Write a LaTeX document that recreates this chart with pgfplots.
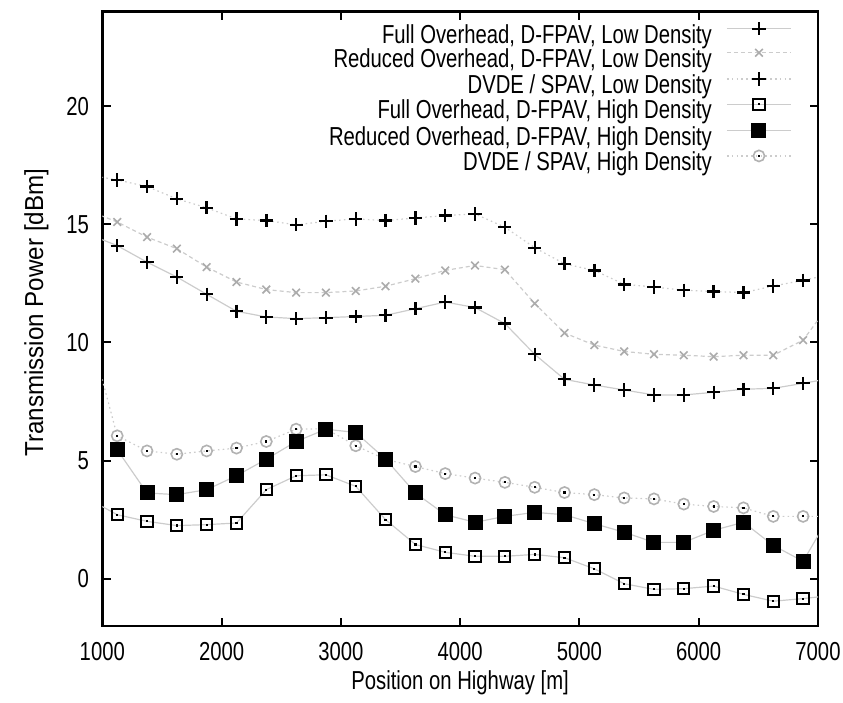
\documentclass[border=0pt]{standalone}
\usepackage{fontspec}
\setmainfont{Liberation Sans}[FakeStretch=0.78]
\newfontfamily\ylabfont{Liberation Sans}[FakeStretch=0.93]
\usepackage{pgfplots}
\pgfplotsset{compat=1.18}

\pgfdeclareplotmark{sqdot}{%
  \pgfpathrectangle{\pgfqpoint{-\pgfplotmarksize}{-\pgfplotmarksize}}{\pgfqpoint{2\pgfplotmarksize}{2\pgfplotmarksize}}%
  \pgfusepathqstroke
  \pgfpathrectangle{\pgfqpoint{-0.55pt}{-0.55pt}}{\pgfqpoint{1.1pt}{1.1pt}}%
  \pgfusepathqfill}
\pgfdeclareplotmark{circdot}{%
  \pgfpathcircle{\pgfpointorigin}{\pgfplotmarksize}%
  \pgfusepathqstroke
  \pgfpathrectangle{\pgfqpoint{-0.55pt}{-0.55pt}}{\pgfqpoint{1.1pt}{1.1pt}}%
  \pgfusepathqfill}

\pgfplotsset{
  sA/.style={gray!40, line width=0.6pt, mark=+, mark size=3.3pt, mark options={black, line width=1.1pt, solid}},
  sB/.style={gray!40, line width=0.6pt, dash pattern=on 2pt off 1.5pt, mark=x, mark size=2.7pt, mark options={gray!65, line width=0.8pt, solid}},
  sC/.style={gray!40, line width=0.6pt, dash pattern=on 0.8pt off 1.6pt, mark=+, mark size=3.3pt, mark options={black, line width=1.2pt, solid}},
  sD/.style={gray!40, line width=0.6pt, mark=sqdot, mark size=2.8pt, mark options={draw=black, fill=black, line width=1pt, solid}},
  sE/.style={gray!40, line width=0.6pt, mark=square*, mark size=3.5pt, mark options={draw=black, fill=black, line width=0.5pt, solid}},
  sF/.style={gray!40, line width=0.6pt, dash pattern=on 0.8pt off 1.6pt, mark=circdot, mark size=2.8pt, mark options={draw=gray!60, fill=black, line width=0.8pt, solid}},
}

\begin{document}
\begin{tikzpicture}
\begin{axis}[name=ax,
  scale only axis, width=357.85pt, height=307.15pt,
  xmin=1000, xmax=7000, ymin=-2, ymax=24,
  xtick={1000,2000,3000,4000,5000,6000,7000},
  ytick={0,5,10,15,20},
  font=\fontsize{13}{15}\selectfont,
  /pgf/number format/assume math mode=true,
  /pgf/number format/1000 sep={},
  tick align=inside, major tick length=4.2pt,
  every tick/.style={black, line width=1pt},
  axis line style={line width=1.3pt},
  xticklabel style={anchor=center, yshift=-13pt, inner sep=0pt},
  yticklabel style={anchor=east, xshift=-6.5pt, inner sep=0pt},
  xlabel={Position on Highway [m]},
  ylabel={Transmission Power [dBm]},
  every axis x label/.style={at={(axis description cs:0.5,-0.0928)}, anchor=center},
  every axis y label/.style={at={(axis description cs:-0.0922,0.51)}, rotate=90, anchor=center, font=\ylabfont\fontsize{13}{15}\selectfont},
  legend style={at={(axis description cs:1,1)}, anchor=north east, xshift=-13pt, yshift=-5pt,
    draw=none, fill=none, inner sep=0pt, column sep=7.25pt, row sep=0pt,
    nodes={inner sep=0pt, text height=9.5pt, text depth=2.5pt}},
  legend cell align=right, legend plot pos=right,
  legend image code/.code={\draw[mark repeat=2,mark phase=2,#1] plot coordinates {(0pt,3.8pt) (16pt,3.8pt) (32pt,3.8pt)};},
]
\addlegendimage{sA}\addlegendentry{Full Overhead, D-FPAV, Low Density}
\addlegendimage{sB}\addlegendentry{Reduced Overhead, D-FPAV, Low Density}
\addlegendimage{sC}\addlegendentry{DVDE / SPAV, Low Density}
\addlegendimage{sD}\addlegendentry{Full Overhead, D-FPAV, High Density}
\addlegendimage{sE}\addlegendentry{Reduced Overhead, D-FPAV, High Density}
\addlegendimage{sF}\addlegendentry{DVDE / SPAV, High Density}

% Full Overhead, Low Density
\addplot[sA, forget plot] coordinates {
(875,14.6) (1125,14.1) (1375,13.4) (1625,12.77) (1875,12.04) (2125,11.32) (2375,11.08) (2625,11.01) (2875,11.05) (3125,11.1) (3375,11.15) (3625,11.43) (3875,11.71) (4125,11.48) (4375,10.8) (4625,9.5) (4875,8.44) (5125,8.2) (5375,7.99) (5625,7.78) (5875,7.78) (6125,7.89) (6375,8.02) (6625,8.06) (6875,8.27) (7125,8.5)};
% Reduced Overhead, Low Density
\addplot[sB, forget plot] coordinates {
(875,15.6) (1125,15.1) (1375,14.46) (1625,13.97) (1875,13.19) (2125,12.56) (2375,12.24) (2625,12.11) (2875,12.11) (3125,12.18) (3375,12.38) (3625,12.7) (3875,13.05) (4125,13.26) (4375,13.08) (4625,11.65) (4875,10.4) (5125,9.89) (5375,9.62) (5625,9.5) (5875,9.46) (6125,9.4) (6375,9.46) (6625,9.46) (6875,10.1) (7125,11.8)};
% DVDE / SPAV, Low Density
\addplot[sC, forget plot] coordinates {
(875,17.1) (1125,16.88) (1375,16.6) (1625,16.08) (1875,15.7) (2125,15.23) (2375,15.16) (2625,14.98) (2875,15.13) (3125,15.23) (3375,15.16) (3625,15.27) (3875,15.37) (4125,15.44) (4375,14.88) (4625,14.01) (4875,13.33) (5125,13.05) (5375,12.46) (5625,12.35) (5875,12.21) (6125,12.16) (6375,12.11) (6625,12.39) (6875,12.63) (7125,12.9)};
% Full Overhead, High Density
\addplot[sD, forget plot] coordinates {
(875,3.4) (1125,2.71) (1375,2.43) (1625,2.25) (1875,2.29) (2125,2.36) (2375,3.77) (2625,4.36) (2875,4.4) (3125,3.91) (3375,2.5) (3625,1.45) (3875,1.12) (4125,0.95) (4375,0.95) (4625,1.03) (4875,0.89) (5125,0.42) (5375,-0.21) (5625,-0.45) (5875,-0.42) (6125,-0.31) (6375,-0.66) (6625,-0.95) (6875,-0.84) (7125,-0.7)};
% DVDE / SPAV, High Density
\addplot[sF, forget plot] coordinates {
(875,10.8) (1125,6.05) (1375,5.41) (1625,5.27) (1875,5.41) (2125,5.53) (2375,5.81) (2625,6.33) (2875,6.35) (3125,5.63) (3375,5.05) (3625,4.75) (3875,4.45) (4125,4.26) (4375,4.08) (4625,3.87) (4875,3.65) (5125,3.56) (5375,3.42) (5625,3.38) (5875,3.16) (6125,3.06) (6375,3.0) (6625,2.64) (6875,2.64) (7125,2.64)};
% Reduced Overhead, High Density
\addplot[sE, forget plot] coordinates {
(1125,5.46) (1375,3.63) (1625,3.56) (1875,3.77) (2125,4.36) (2375,5.06) (2625,5.81) (2875,6.33) (3125,6.19) (3375,5.06) (3625,3.63) (3875,2.71) (4125,2.39) (4375,2.64) (4625,2.81) (4875,2.71) (5125,2.33) (5375,1.97) (5625,1.54) (5875,1.54) (6125,2.05) (6375,2.39) (6625,1.41) (6875,0.74) (7125,2.9)};
\end{axis}
\pgfresetboundingbox
\path[use as bounding box] ([shift={(-51.15pt,-38pt)}]ax.south west) rectangle ([shift={(12.5pt,5.85pt)}]ax.north east);
\end{tikzpicture}
\end{document}
